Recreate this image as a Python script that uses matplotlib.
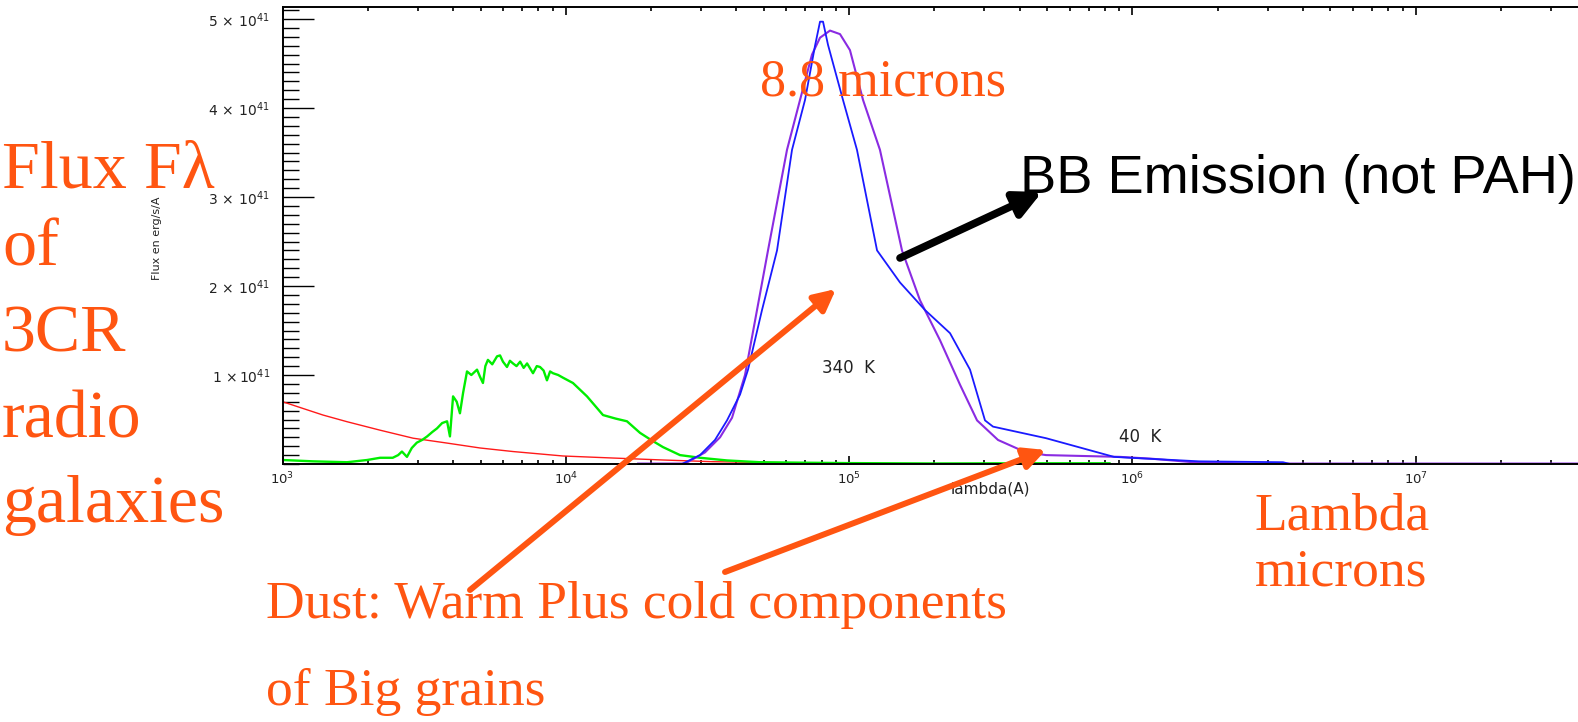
import matplotlib
matplotlib.use("Agg")
import matplotlib.pyplot as plt
from matplotlib.patches import FancyArrowPatch
from matplotlib.ticker import LogLocator, FixedLocator, NullFormatter, MultipleLocator

W, H = 1578, 722

# Wavelengths in Angstrom, fluxes in units of 1e41 erg/s/A
red_wave = [1000, 1390, 1690, 2210, 2890, 3810, 4980, 6510, 9770, 14700, 22000,
            33000, 48500, 68700]
red_flux = [0.70, 0.55, 0.475, 0.38, 0.29, 0.235, 0.18, 0.14, 0.09, 0.067, 0.045,
            0.026, 0.018, 0.012]

green_wave = [1000, 1280, 1690, 1990, 2210, 2450, 2560, 2640, 2750, 2860, 2980,
              3110, 3240, 3380, 3510, 3660, 3810, 3900, 4000, 4120, 4230, 4340,
              4480, 4640, 4860, 4980, 5100, 5200, 5310, 5500, 5720, 5860, 6000,
              6200, 6350, 6510, 6700, 6900, 7100, 7300, 7660, 7900, 8110, 8350,
              8580, 8800, 9010, 9400, 9770, 10600, 11880, 13530, 15000, 16440,
              18280, 20000, 22030, 25300, 29770, 37070, 48470, 67100, 100000,
              200000, 400000, 830000]
green_flux = [0.045, 0.03, 0.02, 0.045, 0.07, 0.07, 0.10, 0.14, 0.08, 0.18, 0.24,
              0.27, 0.31, 0.36, 0.40, 0.46, 0.48, 0.31, 0.76, 0.70, 0.57, 0.80,
              1.04, 1.00, 1.06, 0.98, 0.91, 1.10, 1.17, 1.12, 1.21, 1.22, 1.15,
              1.09, 1.16, 1.13, 1.10, 1.15, 1.08, 1.13, 1.02, 1.10, 1.09, 1.05,
              0.94, 1.04, 1.02, 1.00, 0.97, 0.91, 0.76, 0.55, 0.51, 0.48,
              0.35, 0.27, 0.19, 0.10, 0.07, 0.04, 0.02, 0.015, 0.01,
              0.006, 0.008, 0.008]

blue_wave = [25700, 29770, 33620, 37070, 41210, 43980, 49270, 55670, 62880, 69880,
             75810, 78950, 80900, 84240, 95170, 106600, 125500, 151200, 185300,
             227100, 267200, 301800, 322100, 495500, 861000, 980600, 1718000,
             3401000, 3600000]
blue_flux = [0.0, 0.10, 0.27, 0.49, 0.78, 1.06, 1.73, 2.40, 3.53, 4.09,
             4.70, 4.97, 4.97, 4.71, 4.09, 3.53, 2.40, 2.04, 1.73,
             1.47, 1.06, 0.49, 0.42, 0.29, 0.08, 0.07, 0.03,
             0.02, 0.0]

purple_wave = [18000, 26350, 30990, 35030, 38620, 42910, 47310, 51730, 60370, 67100,
               73960, 78950, 85630, 92880, 100700, 112000, 128500, 153700, 177900,
               209400, 246400, 282900, 335500, 417800, 495500, 904200, 1163000,
               1637000, 2600000, 40000000]
purple_flux = [0.005, 0.005, 0.13, 0.30, 0.52, 1.0, 1.73, 2.40, 3.53, 4.09,
               4.60, 4.79, 4.87, 4.83, 4.65, 4.09, 3.53, 2.40, 1.84,
               1.39, 0.89, 0.49, 0.27, 0.135, 0.10, 0.08, 0.06,
               0.02, 0.005, 0.005]

y_ticks = [1, 2, 3, 4, 5]
y_tick_labels = [r"1 $\times\,$10$^{41}$", r"2$\,\times\,$10$^{41}$",
                 r"3$\,\times\,$10$^{41}$", r"4$\,\times\,$10$^{41}$",
                 r"5$\,\times\,$10$^{41}$"]
x_ticks = [1e3, 1e4, 1e5, 1e6, 1e7]
x_tick_labels = [r"10$^{3}$", r"10$^{4}$", r"10$^{5}$", r"10$^{6}$", r"10$^{7}$"]

ORANGE = "#ff5511"
SERIF = ["Liberation Serif", "DejaVu Serif"]
INK = "#222222"


def fx(x):
    return x / W


def fy(y):
    return 1 - y / H


fig = plt.figure(figsize=(W / 100, H / 100), dpi=100)
ax = fig.add_axes([fx(282.5), fy(464), 1 - fx(282.5), fy(7) - fy(464)])
ax.set_xscale("log")
ax.set_xlim(1e3, 10 ** (3 + (W - 282.5) / 283.3))
ax.set_ylim(0, (464 - 7) / 89)

ax.plot(red_wave, red_flux, color="#ff1a1a", lw=1.0)
ax.plot(green_wave, green_flux, color="#00ee00", lw=1.7)
ax.plot(purple_wave, purple_flux, color="#8a2be2", lw=1.5)
ax.plot(blue_wave, blue_flux, color="#1a1aff", lw=1.3)

for side in ("left", "bottom", "top"):
    ax.spines[side].set_linewidth(1.4)
ax.spines["right"].set_visible(False)

ax.yaxis.set_major_locator(FixedLocator(y_ticks))
ax.set_yticklabels(y_tick_labels)
ax.yaxis.set_minor_locator(MultipleLocator(0.1))
ax.xaxis.set_major_locator(FixedLocator(x_ticks))
ax.set_xticklabels(x_tick_labels)
ax.xaxis.set_minor_locator(LogLocator(base=10, subs=range(2, 10)))
ax.xaxis.set_minor_formatter(NullFormatter())

ax.tick_params(axis="y", which="major", direction="in", length=22, width=1.0,
               pad=9, labelsize=10, labelcolor=INK, right=False)
ax.tick_params(axis="y", which="minor", direction="in", length=11.5, width=1.0,
               right=False)
ax.tick_params(axis="x", which="major", direction="in", length=6, width=1.2,
               pad=5, labelsize=9.5, labelcolor=INK, top=True)
ax.tick_params(axis="x", which="minor", direction="in", length=3, width=1.2,
               top=True)

fig.text(fx(157), fy(238), "Flux en erg/s/A", rotation=90, ha="center",
         va="center", fontsize=8, color=INK)
fig.text(fx(990), fy(489), "lambda(A)", ha="center", va="center", fontsize=11,
         color=INK)
fig.text(fx(848), fy(368), "340  K", ha="center", va="center", fontsize=12,
         color=INK)
fig.text(fx(1140), fy(437), "40  K", ha="center", va="center", fontsize=12,
         color=INK)

# Left-hand caption
for line, base in zip(["Flux F\u03bb", "of", "3CR", "radio", "galaxies"],
                      [188, 266, 352, 437, 522]):
    fig.text(fx(2), fy(base), line, ha="left", va="baseline", fontsize=49,
             color=ORANGE, family=SERIF)

fig.text(fx(760), fy(95), "8.8 microns", ha="left", va="baseline", fontsize=37.5,
         color=ORANGE, family=SERIF)
fig.text(fx(266), fy(618), "Dust: Warm Plus cold components", ha="left",
         va="baseline", fontsize=38.5, color=ORANGE, family=SERIF)
fig.text(fx(266), fy(705), "of Big grains", ha="left", va="baseline",
         fontsize=38.5, color=ORANGE, family=SERIF)
fig.text(fx(1255), fy(530), "Lambda", ha="left", va="baseline", fontsize=38.5,
         color=ORANGE, family=SERIF)
fig.text(fx(1255), fy(585), "microns", ha="left", va="baseline", fontsize=38.5,
         color=ORANGE, family=SERIF)
fig.text(fx(1020), fy(193), "BB Emission (not PAH)", ha="left", va="baseline",
         fontsize=39, color="black", family=["Liberation Sans", "DejaVu Sans"])

arrows = [
    ((470, 590), (836, 289), ORANGE, 4.3, 32),
    ((725, 572), (1046, 450), ORANGE, 4.3, 32),
    ((900, 258), (1042, 192), "black", 5.5, 40),
]
for (x0, y0), (x1, y1), col, lw, ms in arrows:
    fig.add_artist(FancyArrowPatch((fx(x0), fy(y0)), (fx(x1), fy(y1)),
                                   transform=fig.transFigure, arrowstyle="-|>",
                                   mutation_scale=ms, lw=lw, color=col,
                                   shrinkA=0, shrinkB=0, zorder=10))

fig.savefig("out.png", dpi=100)
